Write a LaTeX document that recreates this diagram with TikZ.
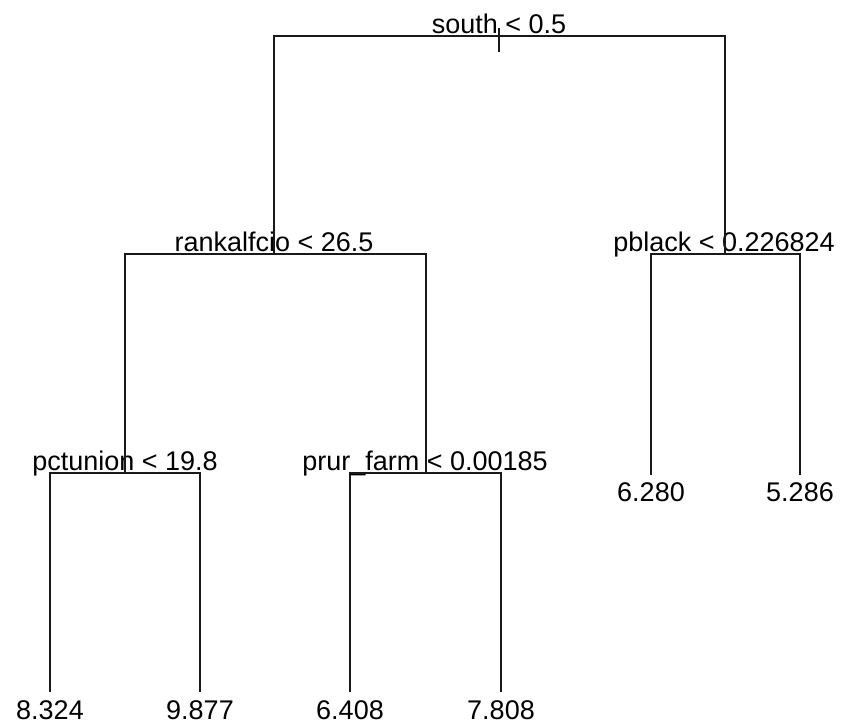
\documentclass[tikz,border=0pt]{standalone}
\usepackage{fontspec}
\setmainfont{Liberation Sans}
\begin{document}
\begin{tikzpicture}[x=1pt,y=-1pt,
  edge/.style={line width=1.6pt, draw=black!90},
  lbl/.style={anchor=base, inner sep=0pt, font=\fontsize{27}{30}\selectfont}]
\useasboundingbox[fill=white] (0,0) rectangle (844,724);
% split points
\coordinate (n1) at (499,36);
\coordinate (n2) at (274,254);
\coordinate (n3) at (725,254);
\coordinate (n4) at (125,473);
\coordinate (n5) at (426,473);
% leaf ends
\coordinate (l6) at (651,475);
\coordinate (l7) at (800,475);
\coordinate (l8) at (50,692);
\coordinate (l9) at (200,692);
\coordinate (l10) at (350,692);
\coordinate (l11) at (501,692);
% root stub
\coordinate (r0) at (499,28);
\coordinate (r1) at (499,52);
% labels
\node[lbl] (t1) at (499,33) {south < 0.5};
\node[lbl] (t2) at (274,251) {rankalfcio < 26.5};
\node[lbl] (t3) at (724,251) {pblack < 0.226824};
\node[lbl] (t4) at (125,470) {pctunion < 19.8};
\node[lbl] (t5) at (425,470) {prur\_farm < 0.00185};
\node[lbl] (v6) at (651,501) {6.280};
\node[lbl] (v7) at (800,501) {5.286};
\node[lbl] (v8) at (50,719) {8.324};
\node[lbl] (v9) at (200,719) {9.877};
\node[lbl] (v10) at (350,719) {6.408};
\node[lbl] (v11) at (501,719) {7.808};
% edges
\draw[edge] (r0) -- (r1);
\draw[edge] (n2) |- (n1) -| (n3);
\draw[edge] (n4) |- (n2) -| (n5);
\draw[edge] (l6) |- (n3) -| (l7);
\draw[edge] (l8) |- (n4) -| (l9);
\draw[edge] (l10) |- (n5) -| (l11);
\end{tikzpicture}
\end{document}
